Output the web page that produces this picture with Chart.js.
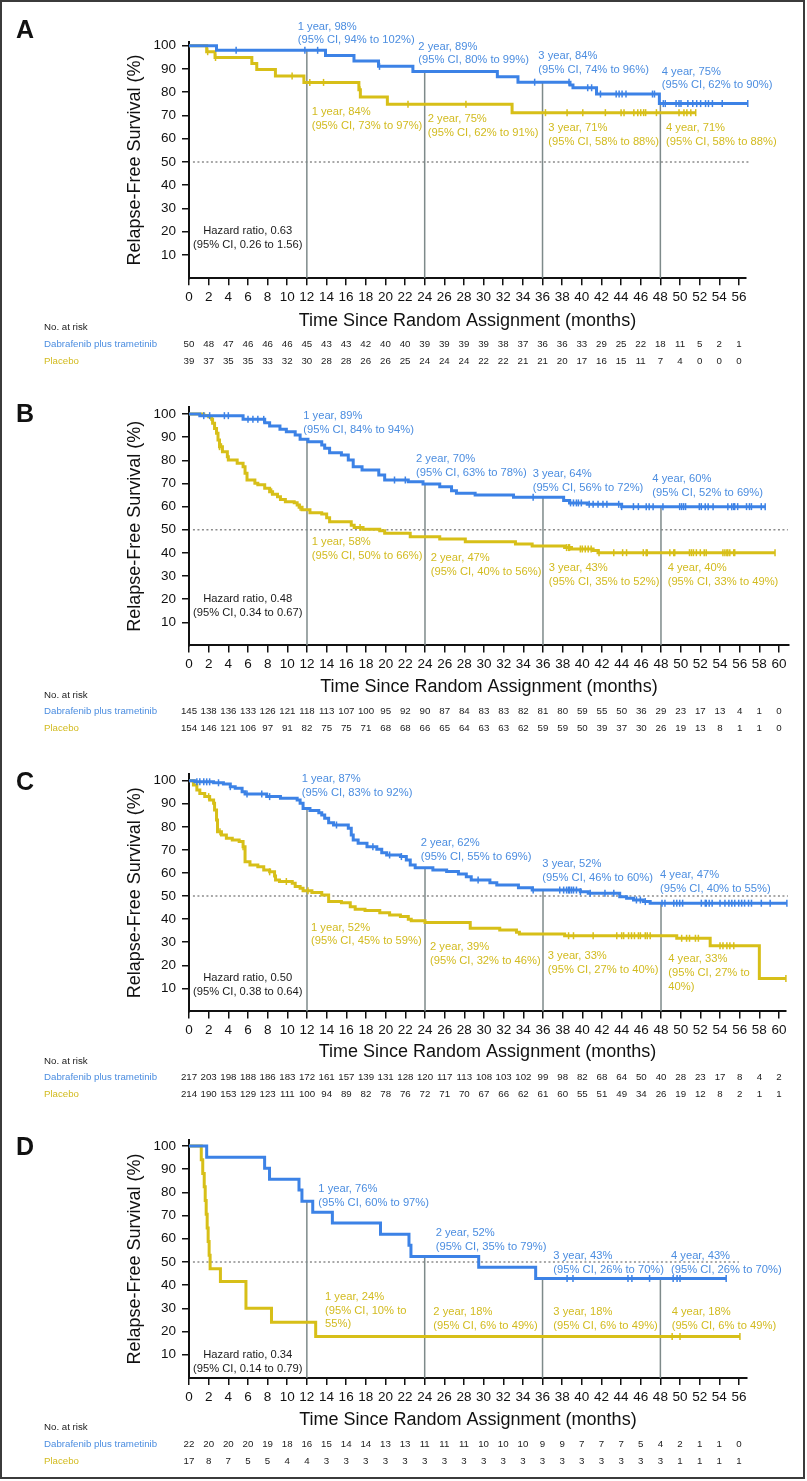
<!DOCTYPE html>
<html lang="en">
<head>
<meta charset="utf-8">
<title>Relapse-Free Survival</title>
<script src="https://cdn.jsdelivr.net/npm/chart.js@4.4.1/dist/chart.umd.min.js"></script>
<style>
  html, body { margin: 0; padding: 0; background: #fff; }
  #page { position: relative; width: 807px; height: 1481px; overflow: hidden; background: #fff; }
  #page canvas { position: absolute; left: 0; }
  #frame { position: absolute; left: 0; top: 0; width: 801px; height: 1475px; border: 2px solid #3b3b3b; pointer-events: none; }
</style>
</head>
<body>
<div id="page"><div id="frame"></div></div>
<script>
// Relapse-free survival, dabrafenib plus trametinib vs placebo, four subgroups (A-D)

const FONT = '"Liberation Sans", Arial, Helvetica, sans-serif';
const DAB_COLOR = '#3c82e6';
const PLA_COLOR = '#d7bf18';
const DAB_TEXT = '#4b8de0';
const PLA_TEXT = '#d2bb1f';
const REF_COLOR = '#7e8a8a';

// axis ticks / labels
const yTicks = [10, 20, 30, 40, 50, 60, 70, 80, 90, 100];
const monthTicks56 = [0, 2, 4, 6, 8, 10, 12, 14, 16, 18, 20, 22, 24, 26, 28, 30, 32, 34, 36, 38, 40, 42, 44, 46, 48, 50, 52, 54, 56];
const monthTicks60 = [0, 2, 4, 6, 8, 10, 12, 14, 16, 18, 20, 22, 24, 26, 28, 30, 32, 34, 36, 38, 40, 42, 44, 46, 48, 50, 52, 54, 56, 58, 60];
const yearMarks = [12, 24, 36, 48];
const armNames = ['Dabrafenib plus trametinib', 'Placebo'];

// ---- Panel A ----
const aDabTimes = [2.8, 13.9, 16.8, 19.3, 22.8, 31.4, 33.5, 38.8, 39.1, 41.5, 47.9];
const aDabSurv = [98.0, 95.8, 93.4, 91.1, 88.9, 86.6, 84.3, 83.1, 81.9, 79.2, 75.1];
const aDabCens = [4.8, 11.8, 13.1, 19.4, 35.2, 38.7, 40.6, 41.0, 41.9, 43.5, 43.8, 44.1, 44.5, 47.2, 47.4, 48.3, 48.5, 49.6, 49.9, 50.1, 50.8, 51.3, 51.7, 52.1, 52.6, 52.9, 53.3, 54.3, 56.9];
const aPlaTimes = [1.8, 2.65, 6.4, 6.9, 8.8, 11.7, 17.3, 17.45, 20.2, 32.9];
const aPlaSurv = [97.4, 94.9, 92.3, 89.7, 87.0, 84.2, 81.0, 77.9, 74.8, 71.2];
const aPlaCens = [1.9, 2.7, 10.5, 12.3, 13.7, 17.4, 22.3, 28.2, 36.3, 38.5, 40.1, 42.4, 44.0, 44.3, 45.3, 45.7, 46.0, 46.3, 46.5, 47.6, 49.9, 50.4, 50.7, 51.1, 51.6];
const aDabAtRisk = [50, 48, 47, 46, 46, 46, 45, 43, 43, 42, 40, 40, 39, 39, 39, 39, 38, 37, 36, 36, 33, 29, 25, 22, 18, 11, 5, 2, 1];
const aPlaAtRisk = [39, 37, 35, 35, 33, 32, 30, 28, 28, 26, 26, 25, 24, 24, 24, 22, 22, 21, 21, 20, 17, 16, 15, 11, 7, 4, 0, 0, 0];
const aDabNotes = [['1 year, 98%', '(95% CI, 94% to 102%)'], ['2 year, 89%', '(95% CI, 80% to 99%)'], ['3 year, 84%', '(95% CI, 74% to 96%)'], ['4 year, 75%', '(95% CI, 62% to 90%)']];
const aPlaNotes = [['1 year, 84%', '(95% CI, 73% to 97%)'], ['2 year, 75%', '(95% CI, 62% to 91%)'], ['3 year, 71%', '(95% CI, 58% to 88%)'], ['4 year, 71%', '(95% CI, 58% to 88%)']];
const aHazard = ['Hazard ratio, 0.63', '(95% CI, 0.26 to 1.56)'];

// ---- Panel B ----
const bDabTimes = [1.1, 5.5, 7.7, 8.2, 9.25, 9.9, 10.8, 11.3, 12.1, 13.5, 13.8, 14.3, 15.5, 16.2, 16.7, 17.6, 19.3, 19.9, 22.3, 23.8, 25.5, 26.7, 27.2, 29.1, 33.0, 38.1, 38.7, 40.5, 44.0];
const bDabSurv = [99.3, 97.7, 96.2, 94.8, 93.4, 92.4, 90.9, 89.1, 88.0, 86.6, 85.2, 83.3, 82.3, 80.1, 77.2, 75.8, 73.7, 71.5, 70.8, 69.8, 68.6, 66.9, 65.8, 65.0, 64.0, 62.6, 61.6, 61.0, 60.0];
const bDabCens = [1.5, 2.1, 3.6, 4.0, 6.0, 6.5, 7.0, 7.6, 20.9, 22.0, 35.0, 38.8, 39.1, 39.4, 39.6, 39.9, 40.7, 41.1, 41.6, 42.1, 42.5, 43.7, 44.0, 45.2, 45.7, 46.5, 46.8, 47.2, 48.2, 49.9, 50.1, 50.3, 50.5, 51.9, 52.1, 52.5, 52.8, 53.3, 54.8, 55.2, 55.4, 55.5, 55.8, 56.7, 57.0, 57.2, 58.2, 58.6];
const bPlaTimes = [1.5, 2.0, 2.3, 2.4, 2.6, 2.8, 2.95, 3.1, 3.4, 3.9, 4.0, 4.9, 5.5, 5.7, 5.9, 6.7, 7.0, 7.7, 8.2, 8.5, 9.0, 9.3, 9.8, 10.7, 11.0, 11.2, 11.5, 12.3, 13.5, 14.0, 14.3, 16.5, 16.8, 17.7, 19.4, 19.9, 22.5, 25.5, 28.1, 33.2, 34.9, 38.2, 38.9, 41.1, 41.6];
const bPlaSurv = [99.4, 98.8, 97.7, 96.0, 93.8, 91.7, 88.8, 85.9, 83.7, 81.6, 80.1, 78.7, 77.2, 74.4, 71.5, 70.1, 69.4, 67.9, 66.4, 65.4, 64.3, 63.1, 62.1, 61.7, 60.7, 59.7, 58.6, 57.4, 56.8, 55.2, 53.5, 52.0, 51.0, 50.2, 49.6, 48.5, 47.0, 46.0, 44.8, 43.8, 43.0, 42.3, 41.7, 41.0, 40.1];
const bPlaCens = [3.1, 3.3, 8.4, 11.3, 17.4, 38.4, 38.6, 38.7, 39.8, 40.0, 40.3, 40.6, 40.9, 41.7, 43.2, 44.1, 44.5, 46.2, 46.5, 46.6, 48.9, 49.3, 49.4, 50.9, 51.1, 51.3, 51.6, 52.0, 52.4, 52.6, 54.3, 54.5, 54.7, 54.8, 55.0, 55.4, 55.5, 59.6];
const bDabAtRisk = [145, 138, 136, 133, 126, 121, 118, 113, 107, 100, 95, 92, 90, 87, 84, 83, 83, 82, 81, 80, 59, 55, 50, 36, 29, 23, 17, 13, 4, 1, 0];
const bPlaAtRisk = [154, 146, 121, 106, 97, 91, 82, 75, 75, 71, 68, 68, 66, 65, 64, 63, 63, 62, 59, 59, 50, 39, 37, 30, 26, 19, 13, 8, 1, 1, 0];
const bDabNotes = [['1 year, 89%', '(95% CI, 84% to 94%)'], ['2 year, 70%', '(95% CI, 63% to 78%)'], ['3 year, 64%', '(95% CI, 56% to 72%)'], ['4 year, 60%', '(95% CI, 52% to 69%)']];
const bPlaNotes = [['1 year, 58%', '(95% CI, 50% to 66%)'], ['2 year, 47%', '(95% CI, 40% to 56%)'], ['3 year, 43%', '(95% CI, 35% to 52%)'], ['4 year, 40%', '(95% CI, 33% to 49%)']];
const bHazard = ['Hazard ratio, 0.48', '(95% CI, 0.34 to 0.67)'];

// ---- Panel C ----
const cDabTimes = [0.6, 2.5, 3.5, 4.2, 4.7, 5.4, 5.7, 7.9, 9.3, 11.0, 11.3, 11.6, 12.3, 13.2, 13.5, 13.8, 14.2, 14.7, 16.2, 16.5, 16.7, 17.2, 18.1, 19.1, 19.6, 20.1, 21.5, 22.1, 22.5, 23.0, 24.8, 26.2, 27.4, 28.2, 28.7, 30.6, 31.3, 33.5, 34.9, 39.8, 40.6, 43.8, 44.5, 45.2, 46.2, 46.9];
const cDabSurv = [99.5, 99.1, 98.6, 97.4, 96.7, 95.2, 94.2, 93.1, 92.4, 91.6, 90.2, 88.0, 87.1, 86.1, 85.1, 83.7, 81.8, 80.8, 79.4, 76.5, 74.3, 72.9, 71.4, 70.3, 68.8, 67.8, 67.1, 65.6, 63.5, 62.3, 61.3, 60.6, 59.6, 58.4, 57.0, 55.8, 54.8, 53.6, 52.6, 51.9, 51.2, 49.7, 49.0, 48.3, 47.6, 46.9];
const cDabCens = [0.8, 1.1, 1.5, 1.8, 2.1, 3.0, 4.2, 5.9, 7.4, 8.2, 15.0, 18.7, 20.4, 21.6, 29.4, 35.0, 37.7, 38.1, 38.4, 38.6, 38.7, 38.9, 39.1, 39.4, 39.8, 40.8, 42.3, 43.2, 45.5, 45.9, 46.4, 48.1, 48.4, 49.3, 49.6, 49.9, 50.2, 52.1, 52.5, 52.6, 52.9, 53.2, 54.0, 54.5, 54.9, 55.2, 55.5, 55.9, 56.2, 56.5, 56.9, 57.2, 58.2, 59.1, 60.8];
const cPlaTimes = [0.45, 0.8, 1.1, 1.6, 2.1, 2.5, 2.6, 2.8, 2.9, 3.3, 3.8, 4.4, 5.1, 5.5, 5.7, 6.2, 7.0, 7.6, 8.2, 8.7, 8.8, 9.2, 10.5, 10.8, 11.3, 11.6, 12.5, 13.5, 14.2, 15.5, 16.4, 16.9, 17.9, 19.4, 20.4, 21.5, 22.3, 22.6, 24.0, 28.6, 31.6, 33.3, 33.6, 38.2, 49.6, 53.0, 58.0];
const cPlaSurv = [98.1, 96.0, 94.5, 93.1, 91.6, 90.2, 87.3, 83.0, 77.9, 76.5, 75.0, 74.3, 73.6, 71.4, 64.9, 63.5, 62.7, 61.3, 60.5, 58.7, 57.0, 56.3, 55.5, 54.1, 53.4, 52.3, 51.5, 50.5, 47.6, 47.1, 45.4, 44.3, 43.7, 42.8, 41.8, 41.1, 39.9, 39.3, 38.5, 36.0, 35.3, 34.3, 33.5, 32.8, 31.7, 28.5, 14.3];
const cPlaCens = [2.0, 3.15, 5.5, 8.2, 9.9, 12.1, 38.6, 39.1, 41.1, 43.5, 44.0, 44.2, 44.7, 45.0, 45.3, 45.7, 45.9, 46.4, 46.6, 46.9, 50.1, 50.6, 50.9, 51.5, 51.8, 54.0, 54.3, 54.7, 55.0, 55.4, 60.7];
const cDabAtRisk = [217, 203, 198, 188, 186, 183, 172, 161, 157, 139, 131, 128, 120, 117, 113, 108, 103, 102, 99, 98, 82, 68, 64, 50, 40, 28, 23, 17, 8, 4, 2];
const cPlaAtRisk = [214, 190, 153, 129, 123, 111, 100, 94, 89, 82, 78, 76, 72, 71, 70, 67, 66, 62, 61, 60, 55, 51, 49, 34, 26, 19, 12, 8, 2, 1, 1];
const cDabNotes = [['1 year, 87%', '(95% CI, 83% to 92%)'], ['2 year, 62%', '(95% CI, 55% to 69%)'], ['3 year, 52%', '(95% CI, 46% to 60%)'], ['4 year, 47%', '(95% CI, 40% to 55%)']];
const cPlaNotes = [['1 year, 52%', '(95% CI, 45% to 59%)'], ['2 year, 39%', '(95% CI, 32% to 46%)'], ['3 year, 33%', '(95% CI, 27% to 40%)'], ['4 year, 33%', '(95% CI, 27% to', '40%)']];
const cHazard = ['Hazard ratio, 0.50', '(95% CI, 0.38 to 0.64)'];

// ---- Panel D ----
const dDabTimes = [1.8, 7.7, 8.2, 11.2, 11.5, 12.6, 14.6, 19.5, 22.4, 22.6, 29.5, 35.3];
const dDabSurv = [95.2, 90.4, 85.7, 81.0, 76.2, 71.4, 66.8, 62.0, 57.2, 52.4, 47.7, 42.9];
const dDabCens = [38.5, 39.1, 44.7, 45.1, 46.9, 49.3, 49.7, 50.0, 54.7];
const dPlaTimes = [1.25, 1.4, 1.55, 1.65, 1.75, 1.85, 1.95, 2.05, 2.15, 3.2, 5.8, 8.4, 12.9];
const dPlaSurv = [94.1, 88.2, 82.4, 76.5, 70.6, 64.7, 58.8, 52.9, 47.1, 41.6, 30.0, 24.0, 17.9];
const dPlaCens = [49.2, 50.0, 56.1];
const dDabAtRisk = [22, 20, 20, 20, 19, 18, 16, 15, 14, 14, 13, 13, 11, 11, 11, 10, 10, 10, 9, 9, 7, 7, 7, 5, 4, 2, 1, 1, 0];
const dPlaAtRisk = [17, 8, 7, 5, 5, 4, 4, 3, 3, 3, 3, 3, 3, 3, 3, 3, 3, 3, 3, 3, 3, 3, 3, 3, 3, 1, 1, 1, 1];
const dDabNotes = [['1 year, 76%', '(95% CI, 60% to 97%)'], ['2 year, 52%', '(95% CI, 35% to 79%)'], ['3 year, 43%', '(95% CI, 26% to 70%)'], ['4 year, 43%', '(95% CI, 26% to 70%)']];
const dPlaNotes = [['1 year, 24%', '(95% CI, 10% to', '55%)'], ['2 year, 18%', '(95% CI, 6% to 49%)'], ['3 year, 18%', '(95% CI, 6% to 49%)'], ['4 year, 18%', '(95% CI, 6% to 49%)']];
const dHazard = ['Hazard ratio, 0.34', '(95% CI, 0.14 to 0.79)'];

// ---- layout (page pixels) and annotation anchors (months, %) ----
const layoutA = { top: 0, height: 372, letterY: 31, plotTop: 41.7, plotBottom: 278.3, plotRight: 745.8, yMax: 101.7, xMax: 56.7, xTitleY: 321, halfEnd: 57.0 };
const layoutB = { top: 372, height: 366, letterY: 415.5, plotTop: 407.1, plotBottom: 645.5, plotRight: 788.8, yMax: 103, xMax: 61, xTitleY: 686.7, halfEnd: 60.9 };
const layoutC = { top: 738, height: 366, letterY: 783.5, plotTop: 774, plotBottom: 1011.4, plotRight: 785.9, yMax: 102.9, xMax: 60.7, xTitleY: 1051.7, halfEnd: 60.9 };
const layoutD = { top: 1104, height: 377, letterY: 1148.5, plotTop: 1140, plotBottom: 1377.9, plotRight: 746.8, yMax: 102.6, xMax: 56.8, xTitleY: 1420, halfEnd: 56.0 };

const aNotePos = { dab: [[11.07, 108.2], [23.35, 99.6], [35.57, 95.6], [48.14, 88.8]], pla: [[12.49, 71.4], [24.31, 68.5], [36.59, 64.7], [48.57, 64.7]], hazard: [5.98, 20.3] };
const bNotePos = { dab: [[11.62, 99.1], [23.09, 80.4], [34.95, 74.0], [47.12, 71.8]], pla: [[12.48, 44.6], [24.58, 37.7], [36.58, 33.5], [48.68, 33.5]], hazard: [5.97, 20.1] };
const cNotePos = { dab: [[11.46, 100.6], [23.56, 72.9], [35.93, 63.8], [47.9, 59.1]], pla: [[12.41, 36.3], [24.51, 27.8], [36.48, 24.0], [48.74, 22.7]], hazard: [5.97, 14.3] };
const dNotePos = { dab: [[13.17, 81.3], [25.12, 62.4], [37.1, 52.6], [49.08, 52.6]], pla: [[13.85, 35.0], [24.88, 28.3], [37.1, 28.3], [49.15, 28.3]], hazard: [5.98, 9.9] };

// survival value of a step curve at time t
function survAt(times, surv, t) {
  let s = 100;
  for (let i = 0; i < times.length; i++) {
    if (times[i] <= t) s = surv[i];
  }
  return s;
}

// start at 100%, one point per event, run flat to the last follow-up
function stepPoints(times, surv, cens) {
  const end = Math.max(times[times.length - 1], ...cens);
  const pts = [{ x: 0, y: 100 }];
  times.forEach((t, i) => pts.push({ x: t, y: surv[i] }));
  pts.push({ x: end, y: surv[surv.length - 1] });
  return pts;
}

function makeArm(idx, times, surv, cens, atRisk, notes, pos) {
  return {
    name: armNames[idx],
    color: idx === 0 ? DAB_COLOR : PLA_COLOR,
    textColor: idx === 0 ? DAB_TEXT : PLA_TEXT,
    times, surv, cens, atRisk, notes, pos
  };
}

const panels = [
  { letter: 'A', layout: layoutA, ticks: monthTicks56, hazard: aHazard, hazardPos: aNotePos.hazard,
    arms: [makeArm(0, aDabTimes, aDabSurv, aDabCens, aDabAtRisk, aDabNotes, aNotePos.dab),
           makeArm(1, aPlaTimes, aPlaSurv, aPlaCens, aPlaAtRisk, aPlaNotes, aNotePos.pla)] },
  { letter: 'B', layout: layoutB, ticks: monthTicks60, hazard: bHazard, hazardPos: bNotePos.hazard,
    arms: [makeArm(0, bDabTimes, bDabSurv, bDabCens, bDabAtRisk, bDabNotes, bNotePos.dab),
           makeArm(1, bPlaTimes, bPlaSurv, bPlaCens, bPlaAtRisk, bPlaNotes, bNotePos.pla)] },
  { letter: 'C', layout: layoutC, ticks: monthTicks60, hazard: cHazard, hazardPos: cNotePos.hazard,
    arms: [makeArm(0, cDabTimes, cDabSurv, cDabCens, cDabAtRisk, cDabNotes, cNotePos.dab),
           makeArm(1, cPlaTimes, cPlaSurv, cPlaCens, cPlaAtRisk, cPlaNotes, cNotePos.pla)] },
  { letter: 'D', layout: layoutD, ticks: monthTicks56, hazard: dHazard, hazardPos: dNotePos.hazard,
    arms: [makeArm(0, dDabTimes, dDabSurv, dDabCens, dDabAtRisk, dDabNotes, dNotePos.dab),
           makeArm(1, dPlaTimes, dPlaSurv, dPlaCens, dPlaAtRisk, dPlaNotes, dNotePos.pla)] }
];

// letters, year notes, hazard ratio and the number-at-risk table
function textPlugin(p) {
  return {
    id: 'kmText' + p.letter,
    afterDraw(chart) {
      const { ctx, chartArea } = chart;
      const x = chart.scales.x;
      const y = chart.scales.y;
      ctx.save();
      ctx.textBaseline = 'middle';

      ctx.fillStyle = '#111';
      ctx.textAlign = 'left';
      ctx.font = 'bold 25px ' + FONT;
      ctx.fillText(p.letter, 16, p.layout.letterY - p.layout.top);

      ctx.font = '11.2px ' + FONT;
      p.arms.forEach(arm => {
        ctx.fillStyle = arm.textColor;
        arm.notes.forEach((lines, k) => {
          const px = x.getPixelForValue(arm.pos[k][0]);
          const py = y.getPixelForValue(arm.pos[k][1]);
          lines.forEach((s, j) => ctx.fillText(s, px, py + j * 13.7));
        });
      });

      ctx.fillStyle = '#1a1a1a';
      ctx.textAlign = 'center';
      const hx = x.getPixelForValue(p.hazardPos[0]);
      const hy = y.getPixelForValue(p.hazardPos[1]);
      p.hazard.forEach((s, j) => ctx.fillText(s, hx, hy + j * 13.7));

      // number at risk
      const base = chartArea.bottom;
      ctx.font = '9.7px ' + FONT;
      ctx.textAlign = 'left';
      ctx.fillText('No. at risk', 44, base + 49.5);
      p.arms.forEach((arm, i) => {
        const ry = base + 66 + i * 17;
        ctx.fillStyle = arm.textColor;
        ctx.textAlign = 'left';
        ctx.fillText(arm.name, 44, ry);
        ctx.fillStyle = '#1a1a1a';
        ctx.textAlign = 'center';
        arm.atRisk.forEach((n, k) => ctx.fillText(String(n), x.getPixelForValue(p.ticks[k]), ry));
      });
      ctx.restore();
    }
  };
}

function buildPanel(p) {
  const L = p.layout;
  const canvas = document.createElement('canvas');
  canvas.width = 807;
  canvas.height = L.height;
  canvas.style.top = L.top + 'px';
  const page = document.getElementById('page');
  page.insertBefore(canvas, document.getElementById('frame'));

  const xAxisH = L.xTitleY - L.plotBottom + 10.8;
  const dab = p.arms[0];
  const datasets = [];

  p.arms.forEach(arm => {
    datasets.push({
      type: 'line',
      data: stepPoints(arm.times, arm.surv, arm.cens),
      borderColor: arm.color,
      borderWidth: 3,
      pointRadius: 0,
      stepped: true,
      fill: false,
      clip: false,
      order: 2
    });
    datasets.push({
      type: 'scatter',
      data: arm.cens.map(t => ({ x: t, y: survAt(arm.times, arm.surv, t) })),
      pointStyle: 'line',
      rotation: 90,
      pointRadius: 3.5,
      borderWidth: 1.5,
      borderColor: arm.color,
      backgroundColor: arm.color,
      clip: false,
      order: 1
    });
  });

  // vertical markers at each year, up to the dabrafenib curve
  yearMarks.forEach(m => {
    datasets.push({
      type: 'line',
      data: [{ x: m, y: 0 }, { x: m, y: survAt(dab.times, dab.surv, m) }],
      borderColor: REF_COLOR,
      borderWidth: 1.5,
      pointRadius: 0,
      order: 3
    });
  });

  // 50% reference line
  datasets.push({
    type: 'line',
    data: [{ x: 0.4, y: 50 }, { x: L.halfEnd, y: 50 }],
    borderColor: '#8c8c8c',
    borderWidth: 1.5,
    borderDash: [2, 2.5],
    pointRadius: 0,
    clip: false,
    order: 3
  });

  new Chart(canvas, {
    type: 'line',
    data: { datasets },
    options: {
      responsive: false,
      animation: false,
      events: [],
      layout: {
        padding: {
          left: 0,
          right: 807 - L.plotRight,
          top: L.plotTop - L.top,
          bottom: L.top + L.height - (L.plotBottom + xAxisH)
        }
      },
      plugins: { legend: { display: false }, tooltip: { enabled: false } },
      scales: {
        x: {
          type: 'linear',
          min: 0,
          max: L.xMax,
          afterBuildTicks: s => { s.ticks = p.ticks.map(v => ({ value: v })); },
          afterFit: s => { s.height = xAxisH; },
          grid: { drawOnChartArea: false, tickLength: 7, color: '#111', lineWidth: 1.5 },
          border: { display: true, color: '#111', width: 2 },
          ticks: { color: '#111', font: { family: FONT, size: 13.5 }, padding: 4, maxRotation: 0, autoSkip: false },
          title: { display: true, text: 'Time Since Random Assignment (months)', color: '#111',
                   font: { family: FONT, size: 18 }, padding: { top: 0, bottom: 0 } }
        },
        y: {
          type: 'linear',
          min: 0,
          max: L.yMax,
          afterBuildTicks: s => { s.ticks = yTicks.map(v => ({ value: v })); },
          afterFit: s => { s.width = 189; },
          grid: { drawOnChartArea: false, tickLength: 7, color: '#111', lineWidth: 1.5 },
          border: { display: true, color: '#111', width: 2 },
          ticks: { color: '#111', font: { family: FONT, size: 13.5 }, padding: 6 },
          title: { display: true, text: 'Relapse-Free Survival (%)', color: '#111',
                   font: { family: FONT, size: 18 }, padding: { top: 124.2, bottom: 0 } }
        }
      }
    },
    plugins: [textPlugin(p)]
  });
}

panels.forEach(buildPanel);
</script>
</body>
</html>
